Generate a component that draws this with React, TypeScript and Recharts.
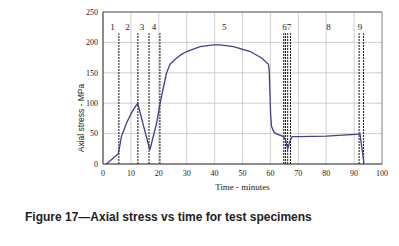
import {
  CartesianGrid,
  Line,
  LineChart,
  ReferenceDot,
  ReferenceLine,
  XAxis,
  YAxis,
} from "recharts"

const times = [
  1.2, 3, 5.5, 6.6, 8.4, 10.2, 12.4, 16.8, 19.2, 20.4, 21.6, 22.8, 24, 25.8, 28,
  30, 34.8, 39.6, 42, 46.8, 52.8, 57, 59.3, 59.6, 59.8, 60.1, 60.4, 61.2, 62,
  64.7, 65.4, 66.2, 67.2, 67.8, 70, 80, 91.8, 92.1, 93.5,
]
const stress = [
  0, 7, 17, 45, 67, 84, 100, 23, 67, 98, 125, 150, 164, 172, 180, 185, 193,
  196, 196, 193, 185, 174, 164, 152, 120, 80, 62, 53, 50, 45, 40, 25, 40, 45,
  45, 46, 49, 50, 2,
]
const stageLines = [5.7, 12.5, 16.5, 20.4, 64.8, 65.4, 66.2, 67.2, 91.8, 93.4]
const stageNames = ["1", "2", "3", "4", "5", "67", "8", "9"]
const stageNameX = [3.4, 8.8, 14, 18.3, 43.5, 65.9, 80.8, 92.1]
const xTicks = [0, 10, 20, 30, 40, 50, 60, 70, 80, 90, 100]
const yTicks = [0, 50, 100, 150, 200, 250]

const data = times.map((t, i) => ({ t, s: stress[i] }))

const SERIF = "'Liberation Serif', 'Times New Roman', serif"
const TICK = { fontSize: 8, fill: "#222", fontFamily: SERIF }

export default function App() {
  return (
    <div style={{ position: "absolute", left: 0, top: 0, width: 399, height: 246, background: "#fff" }}>
      <LineChart
        width={399}
        height={246}
        data={data}
        margin={{ top: 12, right: 17, left: 0, bottom: 52 }}
      >
        <CartesianGrid stroke="#c4c4c4" strokeWidth={0.8} />
        <XAxis
          dataKey="t"
          type="number"
          domain={[0, 100]}
          ticks={xTicks}
          height={30}
          tick={TICK}
          tickLine={false}
          tickSize={4}
          tickMargin={2}
          stroke="#333"
          label={{
            value: "Time - minutes",
            position: "insideBottom",
            offset: 4,
            style: { fontSize: 9, fill: "#222", fontFamily: SERIF },
          }}
        />
        <YAxis
          type="number"
          domain={[0, 250]}
          ticks={yTicks}
          width={103}
          tick={TICK}
          tickLine={false}
          tickSize={3}
          tickMargin={2}
          stroke="#333"
        />
        <ReferenceLine y={250} stroke="#8a8a8a" strokeWidth={1.5} />
        <ReferenceLine x={100} stroke="#9a9a9a" strokeWidth={1} />
        {stageLines.map((x) => (
          <ReferenceLine
            key={x}
            segment={[{ x, y: 0 }, { x, y: 215 }]}
            stroke="#111"
            strokeWidth={1}
            strokeDasharray="2 1"
          />
        ))}
        {stageNames.map((name, i) => (
          <ReferenceDot
            key={name}
            x={stageNameX[i]}
            y={226}
            r={0}
            label={{
              value: name,
              position: "center",
              style: { fontSize: 9, fill: "#222", fontFamily: SERIF },
            }}
          />
        ))}
        <Line
          type="linear"
          dataKey="s"
          stroke="#40408a"
          strokeWidth={1.3}
          dot={false}
          isAnimationActive={false}
        />
      </LineChart>
      <div
        style={{
          position: "absolute",
          left: 81,
          top: 118,
          transform: "translate(-50%, -50%) rotate(-90deg)",
          whiteSpace: "nowrap",
          fontFamily: "'Liberation Sans', Arial, sans-serif",
          fontSize: 8.5,
          color: "#222",
        }}
      >
        Axial stress - MPa
      </div>
      <div
        style={{
          position: "absolute",
          left: 25,
          top: 210,
          whiteSpace: "nowrap",
          fontFamily: "'Liberation Sans', Arial, sans-serif",
          fontWeight: "bold",
          fontSize: 12,
          color: "#222",
        }}
      >
        Figure 17—Axial stress vs time for test specimens
      </div>
    </div>
  )
}
